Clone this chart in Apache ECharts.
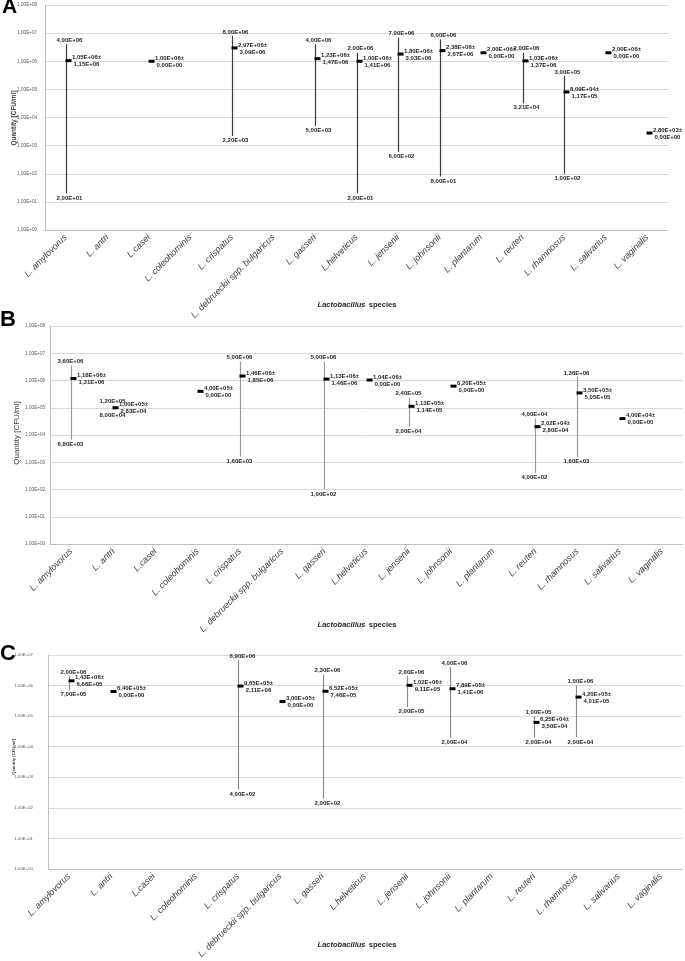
<!DOCTYPE html>
<html><head><meta charset="utf-8">
<script src="https://cdn.jsdelivr.net/npm/echarts@6/dist/echarts.min.js"></script>
<style>html,body{margin:0;padding:0;background:#fff}#c{width:685px;height:961px}</style>
</head><body><div id="c"></div>
<script>
// ---- data ----
const categories = ['L. amylovorus','L. antri','L.casei','L. coleohominis','L. crispatus','L. debrueckii spp. bulgaricus','L. gasseri','L.helveticus','L. jensenii','L. johnsonii','L. plantarum','L. reuteri','L. rhamnosus','L. salivarius','L. vaginalis'];

const meanA = [1.05e6, null, 1.00e6, null, 2.97e6, null, 1.23e6, 1.00e6, 1.80e6, 2.38e6, 2.00e6, 1.03e6, 8.09e4, 2.00e6, 2.80e3];
const sdA   = [1.15e6, null, 0, null, 3.09e6, null, 1.47e6, 1.41e6, 3.03e6, 2.67e6, 0, 1.37e6, 1.17e5, 0, 0];
const minA  = [2.00e1, null, null, null, 2.20e3, null, 5.00e3, 2.00e1, 6.00e2, 8.00e1, null, 3.21e4, 1.00e2, null, null];
const maxA  = [4.00e6, null, null, null, 8.00e6, null, 4.00e6, 2.00e6, 7.00e6, 6.00e6, null, 2.00e6, 3.00e5, null, null];

const meanB = [1.18e6, 1.00e5, null, 4.00e5, 1.46e6, null, 1.13e6, 1.04e6, 1.13e5, 6.20e5, null, 2.02e4, 3.50e5, 4.00e4, null];
const sdB   = [1.31e6, 2.83e4, null, 0, 1.85e6, null, 1.46e6, 0, 1.14e5, 0, null, 2.80e4, 5.05e5, 0, null];
const minB  = [6.80e3, 8.00e4, null, null, 1.60e3, null, 1.00e2, null, 2.00e4, null, null, 4.00e2, 1.60e3, null, null];
const maxB  = [3.60e6, 1.20e5, null, null, 5.00e6, null, 5.00e6, null, 2.40e5, null, null, 4.00e4, 1.36e6, null, null];

const meanC = [1.43e6, 6.40e5, null, null, 9.65e5, 3.00e5, 6.52e5, null, 1.02e6, 7.89e5, null, 6.25e4, 4.20e5, null, null];
const sdC   = [6.66e5, 0, null, null, 2.11e6, 0, 7.46e5, null, 9.11e5, 1.41e6, null, 3.50e4, 4.01e5, null, null];
const minC  = [7.00e5, null, null, null, 4.00e2, null, 2.00e2, null, 2.00e5, 2.00e4, null, 2.00e4, 2.00e4, null, null];
const maxC  = [2.00e6, null, null, null, 6.90e6, null, 2.30e6, null, 2.00e6, 4.00e6, null, 1.00e5, 1.00e6, null, null];

const yMaxA = 1e8, yMaxB = 1e8, yMaxC = 1e7;
const xTitle = ['Lactobacillus', 'species'];
const yTitle = 'Quantity [CFU/ml]';
const panelLetters = ['A', 'B', 'C'];

// ---- helpers ----
function fmt(v) {
  if (v === 0) return '0,00E+00';
  let e = Math.floor(Math.log10(v) + 1e-9);
  let m = Math.round(v / Math.pow(10, e) * 100) / 100;
  if (m >= 10) { m /= 10; e++; }
  return m.toFixed(2).replace('.', ',') + 'E' + (e < 0 ? '-' : '+') + String(Math.abs(e)).padStart(2, '0');
}

const LBL = 'bold 6px "Liberation Sans Narrow", "Liberation Sans", sans-serif';
const LBLC = '#262626';

const panels = [
  { mean: meanA, sd: sdA, mn: minA, mx: maxA, ymax: yMaxA, left: 45, top: 5, width: 623, height: 225, tickFont: 4.6, tickMargin: 8, lineColor: '#3a3a3a', lblDx: 3,
    yt: { x: 14.5, y: 118, font: 'bold 6.5px "Liberation Sans", sans-serif' }, xt: { x: 357, y: 305 }, lt: { x: 2, y: 7.5, size: 21 } },
  { mean: meanB, sd: sdB, mn: minB, mx: maxB, ymax: yMaxB, left: 50, top: 326, width: 633, height: 218, tickFont: 4.6, tickMargin: 5, lineColor: '#9a9a9a', lblDx: -1,
    yt: { x: 16.5, y: 433, font: '8px "Liberation Sans", sans-serif' }, xt: { x: 357, y: 625 }, lt: { x: 0, y: 320, size: 22 } },
  { mean: meanC, sd: sdC, mn: minC, mx: maxC, ymax: yMaxC, left: 48, top: 655, width: 634, height: 222, tickFont: 4.3, tickMargin: 15, lineColor: '#8a8a8a', lblDx: 4,
    yt: { x: 14, y: 757, font: 'bold 4.2px "Liberation Sans", sans-serif' }, xt: { x: 357, y: 945 }, lt: { x: 0, y: 654, size: 22 } }
];

function makeSeries(k, p) {
  const data = [];
  categories.forEach((c, i) => {
    if (p.mean[i] != null) data.push([i, p.mean[i], p.sd[i], p.mn[i] == null ? NaN : p.mn[i], p.mx[i] == null ? NaN : p.mx[i]]);
  });
  return {
    type: 'custom', xAxisIndex: k, yAxisIndex: k, data: data,
    encode: { x: 0, y: 1 },
    renderItem: function (params, api) {
      const i = api.value(0);
      const mean = api.value(1), sd = api.value(2), mn = api.value(3), mx = api.value(4);
      const pm = api.coord([i, mean]);
      const x = Math.round(pm[0]) + 0.5;
      const ch = [];
      if (isFinite(mn) && isFinite(mx)) {
        const pt = api.coord([i, mx]), pb = api.coord([i, mn]);
        ch.push({ type: 'line', shape: { x1: x, y1: pt[1], x2: x, y2: pb[1] }, style: { stroke: p.lineColor, lineWidth: 1.2 } });
        ch.push({ type: 'text', x: x + p.lblDx, y: pt[1] - 1, style: { text: fmt(mx), font: LBL, fill: LBLC, align: 'center', verticalAlign: 'bottom' } });
        ch.push({ type: 'text', x: x + p.lblDx, y: pb[1] + 1.5, style: { text: fmt(mn), font: LBL, fill: LBLC, align: 'center', verticalAlign: 'top' } });
      }
      ch.push({ type: 'rect', shape: { x: x - 1, y: pm[1] - 1.5, width: 6, height: 3 }, style: { fill: '#000' } });
      ch.push({ type: 'text', x: x + 20, y: pm[1] + 0.5, style: { text: fmt(mean) + '±\n' + fmt(sd), font: LBL, fill: LBLC, align: 'center', verticalAlign: 'middle', lineHeight: 7 } });
      return { type: 'group', children: ch };
    }
  };
}

const graphic = [];
panels.forEach((p, k) => {
  graphic.push({ type: 'text', x: p.lt.x, y: p.lt.y, style: { text: panelLetters[k], font: 'bold ' + p.lt.size + 'px "Liberation Sans", Arial, sans-serif', fill: '#000', align: 'left', verticalAlign: 'middle' } });
  graphic.push({ type: 'text', x: p.yt.x, y: p.yt.y, rotation: Math.PI / 2, style: { text: yTitle, font: p.yt.font, fill: '#404040', align: 'center', verticalAlign: 'middle' } });
  graphic.push({ type: 'text', x: p.xt.x, y: p.xt.y, style: {
    text: '{i|' + xTitle[0] + '} {b|' + xTitle[1] + '}', align: 'center', verticalAlign: 'middle',
    rich: { i: { fontStyle: 'italic', fontWeight: 'bold', fontSize: 7.5, fontFamily: 'Liberation Sans', fill: '#262626', color: '#262626' },
            b: { fontWeight: 'bold', fontSize: 7.5, fontFamily: 'Liberation Sans', fill: '#262626', color: '#262626' } } } });
});

const option = {
  animation: false,
  backgroundColor: '#fff',
  grid: panels.map(p => ({ left: p.left, top: p.top, width: p.width, height: p.height, containLabel: false })),
  xAxis: panels.map((p, k) => ({
    type: 'category', gridIndex: k, data: categories, boundaryGap: true,
    axisTick: { show: false }, axisLine: { show: true, lineStyle: { color: '#bfbfbf' } },
    axisLabel: { rotate: 45, interval: 0, margin: 6, fontSize: 9, fontStyle: 'italic', fontFamily: 'Liberation Sans', color: '#404040' },
    splitLine: { show: false }
  })),
  yAxis: panels.map((p, k) => ({
    type: 'log', logBase: 10, gridIndex: k, min: 1, max: p.ymax, splitNumber: 8,
    axisLine: { show: true, lineStyle: { color: '#bfbfbf' } }, axisTick: { show: false },
    axisLabel: { formatter: v => fmt(v), fontSize: p.tickFont, fontFamily: 'Liberation Sans', color: '#595959', margin: p.tickMargin },
    splitLine: { show: true, lineStyle: { color: '#d9d9d9', width: 1 } }
  })),
  series: panels.map((p, k) => makeSeries(k, p)),
  graphic: graphic
};

const chart = echarts.init(document.getElementById('c'), null, { renderer: 'canvas' });
chart.setOption(option);
</script>
</body></html>
